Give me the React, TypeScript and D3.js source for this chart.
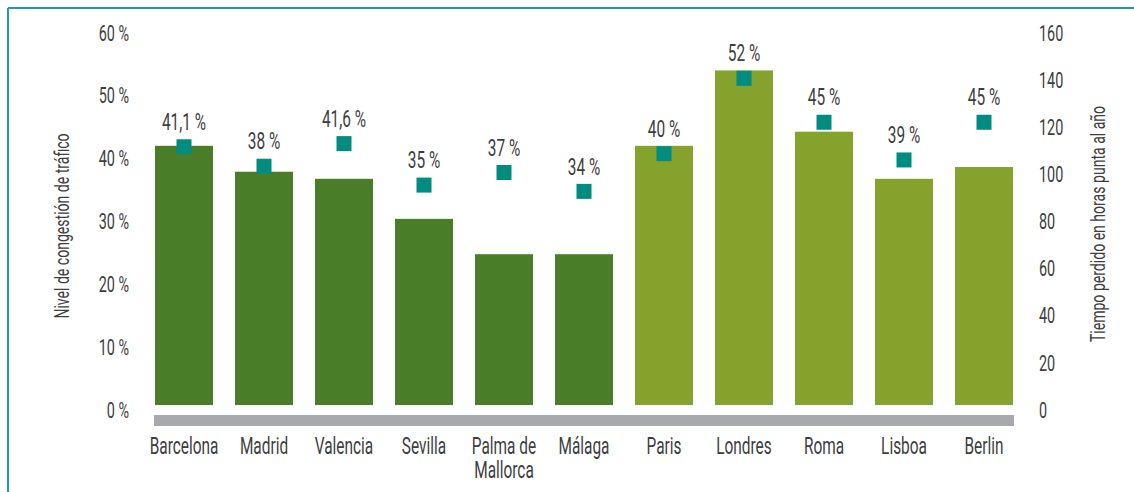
import React from "react";
import * as d3 from "d3";

const categories = ["Barcelona", "Madrid", "Valencia", "Sevilla", "Palma de\nMallorca", "Málaga", "Paris", "Londres", "Roma", "Lisboa", "Berlin"];
const hoursLost = [110, 99, 96, 79, 64, 64, 110, 142, 116, 96, 101];
const congestion = [41.1, 38, 41.6, 35, 37, 34, 40, 52, 45, 39, 45];
const congestionLabels = ["41,1 %", "38 %", "41,6 %", "35 %", "37 %", "34 %", "40 %", "52 %", "45 %", "39 %", "45 %"];
const isSpanish = [true, true, true, true, true, true, false, false, false, false, false];
const leftTicks = [0, 10, 20, 30, 40, 50, 60];
const rightTicks = [0, 20, 40, 60, 80, 100, 120, 140, 160];

const W = 1134;
const H = 492;
const FONT = "Roboto, 'Noto Sans', sans-serif";
const TEXT = "#3e3e3e";
const SX = 0.67;

type TProps = { x: number; y: number; anchor?: string; size: number; rotate?: number; children: React.ReactNode };
function T({ x, y, anchor = "middle", size, rotate = 0, children }: TProps) {
  return (
    <text
      transform={`translate(${x},${y}) rotate(${rotate}) scale(${SX},1)`}
      textAnchor={anchor}
      dominantBaseline="central"
      fontSize={size}
      fontFamily={FONT}
      fontWeight={400}
      fill={TEXT}
    >
      {children}
    </text>
  );
}

export default function App() {
  const x = d3.scaleBand<number>().domain(d3.range(categories.length)).range([144, 1024]).paddingInner(0.275).paddingOuter(0.1375);
  const yL = d3.scaleLinear().domain([0, 60]).range([405, 28]);
  const yR = d3.scaleLinear().domain([0, 160]).range([405, 28]);
  const bw = x.bandwidth();
  const sq = 15;
  const first = x(0) as number;
  const last = (x(categories.length - 1) as number) + bw;

  return (
    <svg width={W} height={H} style={{ position: "absolute", left: 0, top: 0, background: "#fff" }}>
      <line x1={8} y1={8} x2={W} y2={8} stroke="#1d97b3" strokeWidth={2} />
      <line x1={8} y1={8} x2={8} y2={H} stroke="#1d97b3" strokeWidth={2} />

      {leftTicks.map((t) => (
        <T key={"l" + t} x={129} y={yL(t) + 5} anchor="end" size={21.5}>
          {t} %
        </T>
      ))}
      {rightTicks.map((t) => (
        <T key={"r" + t} x={1039} y={yR(t) + 5} anchor="start" size={21.5}>
          {t}
        </T>
      ))}

      <T x={61} y={226} rotate={-90} size={21}>
        Nivel de congestión de tráfico
      </T>
      <T x={1097} y={224} rotate={-90} size={21}>
        Tiempo perdido en horas punta al año
      </T>

      <rect x={first - 1} y={415} width={last - first + 2} height={11} fill="#a7a9ac" />

      {hoursLost.map((v, i) => (
        <rect key={"b" + i} x={x(i)} y={yR(v)} width={bw} height={yR(0) - yR(v)} fill={isSpanish[i] ? "#4a7d28" : "#84a22c"} />
      ))}

      {congestion.map((v, i) => {
        const cx = (x(i) as number) + bw / 2;
        const cy = yL(v);
        return (
          <g key={"s" + i}>
            <rect x={cx - sq / 2} y={cy - sq / 2} width={sq} height={sq} fill="#008c7e" />
            <T x={cx} y={cy - 24.5} size={23}>
              {congestionLabels[i]}
            </T>
          </g>
        );
      })}

      {categories.map((c, i) => {
        const cx = (x(i) as number) + bw / 2;
        return c.split("\n").map((line, j) => (
          <T key={"c" + i + "_" + j} x={cx} y={446 + j * 24} size={23}>
            {line}
          </T>
        ));
      })}
    </svg>
  );
}
